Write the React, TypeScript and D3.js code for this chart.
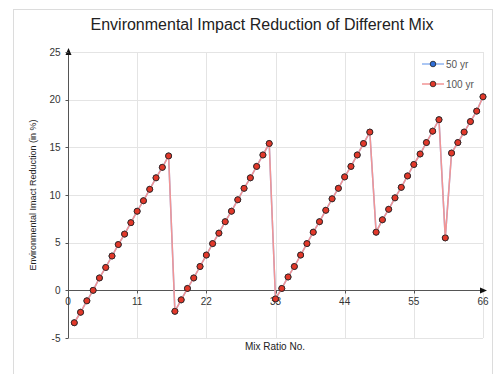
import React, { useEffect, useRef } from 'react';
import * as d3 from 'd3';

// mix ratio numbers 1..66 and reduction values (in %)
const mixNo: number[] = [
  1, 2, 3, 4, 5, 6, 7, 8, 9, 10, 11, 12, 13, 14, 15, 16,
  17, 18, 19, 20, 21, 22, 23, 24, 25, 26, 27, 28, 29, 30, 31, 32,
  33, 34, 35, 36, 37, 38, 39, 40, 41, 42, 43, 44, 45, 46, 47, 48,
  49, 50, 51, 52, 53, 54, 55, 56, 57, 58, 59,
  60, 61, 62, 63, 64, 65, 66,
];

const reduction100: number[] = [
  -3.4, -2.3, -1.1, 0.0, 1.3, 2.4, 3.6, 4.8, 5.9, 7.1, 8.3, 9.4, 10.6, 11.8, 12.9, 14.1,
  -2.2, -1.0, 0.2, 1.3, 2.5, 3.7, 4.9, 6.0, 7.2, 8.3, 9.5, 10.7, 11.8, 13.0, 14.2, 15.4,
  -0.9, 0.2, 1.4, 2.5, 3.7, 4.9, 6.1, 7.2, 8.4, 9.6, 10.7, 11.9, 13.0, 14.2, 15.4, 16.6,
  6.1, 7.4, 8.5, 9.7, 10.8, 12.0, 13.2, 14.3, 15.5, 16.7, 17.9,
  5.5, 14.4, 15.5, 16.6, 17.7, 18.8, 20.3,
];

// 50 yr series sits exactly under the 100 yr one
const reduction50: number[] = reduction100.slice();

const xTicks = [0, 11, 22, 33, 44, 55, 66];
const yTicks = [-5, 0, 5, 10, 15, 20, 25];

const seriesNames = ['50 yr', '100 yr'];

export default function App() {
  const svgRef = useRef<SVGSVGElement>(null);

  useEffect(() => {
    if (!svgRef.current) return;
    const svg = d3.select(svgRef.current);
    svg.selectAll('*').remove();

    const width = 497;
    const height = 374;
    const left = 68, right = 483, top = 52, bottom = 338;

    const x = d3.scaleLinear().domain([0, 66]).range([left, right]);
    const y = d3.scaleLinear().domain([-5, 25]).range([bottom, top]);

    const font = 'Liberation Sans, Arial, sans-serif';

    // outer frame
    svg.append('rect')
      .attr('x', 13.5).attr('y', 9.5)
      .attr('width', 479).attr('height', 380)
      .attr('fill', '#fff').attr('stroke', '#dcdcdc');

    // title
    svg.append('text')
      .attr('x', 262).attr('y', 30)
      .attr('text-anchor', 'middle')
      .attr('font-family', font).attr('font-size', 16)
      .attr('fill', '#222')
      .text('Environmental Impact Reduction of Different Mix');

    // grid
    const grid = svg.append('g').attr('stroke', '#e4e4e4').attr('stroke-width', 1);
    yTicks.filter(t => t !== 0).forEach(t => {
      grid.append('line')
        .attr('x1', x(0)).attr('x2', x(66))
        .attr('y1', Math.round(y(t)) + 0.5).attr('y2', Math.round(y(t)) + 0.5);
    });
    xTicks.filter(t => t !== 0).forEach(t => {
      grid.append('line')
        .attr('x1', Math.round(x(t)) + 0.5).attr('x2', Math.round(x(t)) + 0.5)
        .attr('y1', y(25)).attr('y2', y(-5));
    });

    // axes
    const axisColor = '#555';
    const y0 = Math.round(y(0)) + 0.5;
    const x0 = Math.round(x(0)) + 0.5;
    svg.append('line')
      .attr('x1', x0).attr('x2', x(66) + 2)
      .attr('y1', y0).attr('y2', y0)
      .attr('stroke', axisColor);
    svg.append('line')
      .attr('x1', x0).attr('x2', x0)
      .attr('y1', y(-5)).attr('y2', y(25) - 2)
      .attr('stroke', axisColor);

    // arrowheads
    svg.append('path')
      .attr('d', `M${x(66) + 4},${y0} L${x(66) - 3},${y0 - 3} L${x(66) - 3},${y0 + 3} Z`)
      .attr('fill', '#111');
    svg.append('path')
      .attr('d', `M${x0},${y(25) - 4} L${x0 - 3},${y(25) + 3} L${x0 + 3},${y(25) + 3} Z`)
      .attr('fill', '#111');

    // ticks
    xTicks.filter(t => t !== 0 && t !== 66).forEach(t => {
      svg.append('line')
        .attr('x1', Math.round(x(t)) + 0.5).attr('x2', Math.round(x(t)) + 0.5)
        .attr('y1', y0).attr('y2', y0 + 3)
        .attr('stroke', axisColor);
    });
    yTicks.forEach(t => {
      svg.append('line')
        .attr('x1', x0 - 3).attr('x2', x0)
        .attr('y1', Math.round(y(t)) + 0.5).attr('y2', Math.round(y(t)) + 0.5)
        .attr('stroke', axisColor);
    });

    // tick labels
    svg.append('g').selectAll('text')
      .data(xTicks).enter().append('text')
      .attr('x', d => x(d))
      .attr('y', y0 + 14)
      .attr('text-anchor', 'middle')
      .attr('font-family', font).attr('font-size', 10)
      .attr('fill', '#333')
      .text(d => d);
    svg.append('g').selectAll('text')
      .data(yTicks).enter().append('text')
      .attr('x', x0 - 8)
      .attr('y', d => y(d) + 3.5)
      .attr('text-anchor', 'end')
      .attr('font-family', font).attr('font-size', 10)
      .attr('fill', '#333')
      .text(d => d);

    // axis titles
    svg.append('text')
      .attr('x', 275).attr('y', 350)
      .attr('text-anchor', 'middle')
      .attr('font-family', font).attr('font-size', 10)
      .attr('fill', '#222')
      .text('Mix Ratio No.');
    svg.append('text')
      .attr('transform', `translate(36,${y(10)}) rotate(-90)`)
      .attr('text-anchor', 'middle')
      .attr('font-family', font).attr('font-size', 9)
      .attr('fill', '#222')
      .text('Environmental Imact Reduction (in %)');

    // series
    const colors = [
      { line: '#8fb4f0', fill: '#2f6fd8' },
      { line: '#f29494', fill: '#e2382a' },
    ];
    const line = d3.line<number>()
      .x((_, i) => x(mixNo[i]))
      .y(d => y(d));

    [reduction50, reduction100].forEach((vals, s) => {
      svg.append('path')
        .datum(vals)
        .attr('d', line)
        .attr('fill', 'none')
        .attr('stroke', colors[s].line)
        .attr('stroke-width', 1.5);
      svg.append('g').selectAll('circle')
        .data(vals).enter().append('circle')
        .attr('cx', (_, i) => x(mixNo[i]))
        .attr('cy', d => y(d))
        .attr('r', 3)
        .attr('fill', colors[s].fill)
        .attr('stroke', '#222')
        .attr('stroke-width', 0.8);
    });

    // legend
    const lg = svg.append('g');
    seriesNames.forEach((name, i) => {
      const ly = 64 + i * 20;
      lg.append('line')
        .attr('x1', 422).attr('x2', 444)
        .attr('y1', ly).attr('y2', ly)
        .attr('stroke', colors[i].line).attr('stroke-width', 1.5);
      lg.append('circle')
        .attr('cx', 433).attr('cy', ly).attr('r', 2.8)
        .attr('fill', colors[i].fill)
        .attr('stroke', '#222').attr('stroke-width', 0.8);
      lg.append('text')
        .attr('x', 446).attr('y', ly + 3.5)
        .attr('font-family', font).attr('font-size', 10)
        .attr('fill', '#555')
        .text(name);
    });

    svg.attr('width', width).attr('height', height);
  }, []);

  return (
    <svg
      ref={svgRef}
      width={497}
      height={374}
      style={{ position: 'absolute', left: 0, top: 0, display: 'block' }}
    />
  );
}
